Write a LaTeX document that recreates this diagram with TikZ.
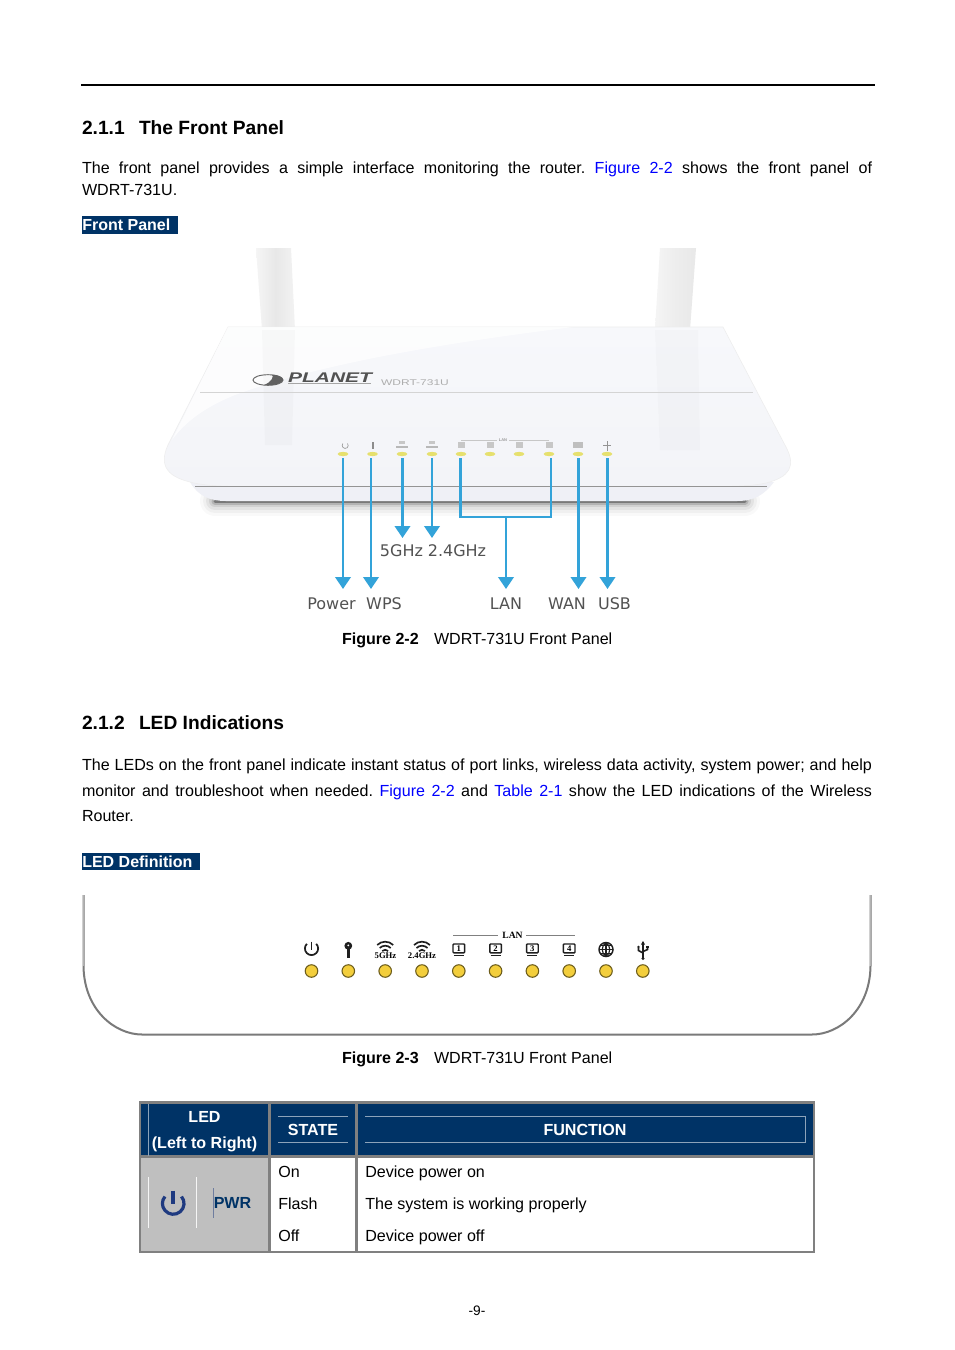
\documentclass[tikz,border=0pt]{standalone}
\usepackage{fontspec}
\usepackage{graphicx}
\setmainfont{Liberation Sans}
\newfontfamily\serifface{Liberation Serif}
\newfontfamily\labelface{DejaVu Sans}
\usetikzlibrary{arrows.meta,shapes.geometric}
\definecolor{navy}{HTML}{003366}
\definecolor{linkblue}{HTML}{0000FF}
\definecolor{arrowblue}{HTML}{33A3D9}
\definecolor{tgray}{HTML}{808080}
\definecolor{cellgray}{HTML}{BFBFBF}
\definecolor{ledy}{HTML}{F3CE3C}
\definecolor{iconblue}{HTML}{1F3A80}
\definecolor{bodytop}{HTML}{F7F8FB}
\definecolor{bodybot}{HTML}{F3F4F8}
\definecolor{lipcol}{HTML}{EFF0F6}
\definecolor{rledc}{HTML}{E6E06E}
\newcommand{\bodytext}{\fontsize{12.05}{14}\selectfont\frenchspacing}
\newcommand{\headtext}{\fontsize{14.4}{18}\selectfont\bfseries}
\newcommand{\lnk}[1]{\textcolor{linkblue}{#1}}
\newcommand{\jline}[1]{\makebox[592.5pt][s]{#1}}
\tikzset{
  x=0.75pt,y=-0.75pt,
  txt/.style={anchor=base west,inner sep=0pt,outer sep=0pt,font=\bodytext},
  head/.style={anchor=base west,inner sep=0pt,outer sep=0pt,font=\headtext},
  capt/.style={anchor=base west,inner sep=0pt,outer sep=0pt,font=\bodytext},
  bannertext/.style={anchor=base west,inner sep=0pt,text=white,font=\fontsize{12}{14}\selectfont\bfseries},
  thd/.style={inner sep=0pt,text=white,font=\bodytext\bfseries},
  cellt/.style={anchor=base west,inner sep=0pt,font=\bodytext},
  rlabel/.style={inner sep=0pt,text=black!68,font=\labelface\fontsize{12}{14}\selectfont},
  arrowline/.style={draw=arrowblue,line width=2.1pt,line join=miter},
  arrowtip/.style={-{Triangle[width=11.5pt,length=9pt]}},
  pled/.style={circle,draw=black!55!ledy,fill=ledy,line width=0.8pt,minimum size=9.4pt,inner sep=0pt},
  rled/.style={ellipse,inner sep=0pt,minimum width=8pt,minimum height=3.2pt,fill=rledc},
  icon/.style={draw=black!88,line width=1pt,fill=none},
  thin white/.style={draw=white!85!cellgray,line width=0.5pt},
  hline/.style={draw=white!55!navy,line width=0.5pt},
}
\begin{document}
\begin{tikzpicture}
\useasboundingbox (0,0) rectangle (954,1350);
\fill[white] (0,0) rectangle (954,1350);

% top rule
\draw[line width=1.5pt] (81,85) -- (875,85);

% section 2.1.1
\node[head] (h1n) at (82,134) {2.1.1};
\node[head] (h1) at (139,134) {The Front Panel};
\node[txt] (p1a) at (82,173) {\jline{The front panel provides a simple interface monitoring the router. \lnk{Figure} \lnk{2-2} shows the front panel of}};
\node[txt] (p1b) at (82,195) {WDRT-731U.};
\fill[navy] (82,216) rectangle (178,234);
\node[bannertext] (b1) at (82,230) {Front Panel};

% ---------- router -------------
% antennas
\shade[left color=black!4,right color=black!5,middle color=black!9] (256,248) -- (291,248) -- (295,330) -- (262,330) -- cycle;
\shade[left color=black!4,right color=black!9,middle color=black!7] (660,248) -- (696,248) -- (690,330) -- (655,330) -- cycle;
% soft shadow
\foreach \w/\o in {30/.025,24/.035,18/.05,12/.08,7/.14,3/.32}{
  \draw[black,line width=\w*0.75pt,opacity=\o,line cap=round] (215,501) -- (745,501);
}
% lip
\fill[lipcol] (190,482) .. controls (198,496) and (210,501) .. (226,501) -- (737,501) .. controls (754,501) and (764,495) .. (774,482) -- cycle;
% body
\shade[top color=bodytop,bottom color=bodybot,draw=black!7,line width=0.4pt] (228,327) -- (723,327)
   -- (786,447)
   .. controls (796,466) and (790,477) .. (766,483)
   .. controls (750,486.5) and (730,486.5) .. (700,486.5)
   -- (250,486.5) .. controls (225,486.5) and (205,486) .. (190,482)
   .. controls (165,476) and (158,463) .. (170,441)
   -- cycle;
% swoosh
\fill[white,opacity=.75] (228,327) -- (573,327) .. controls (470,340) and (330,360) .. (235,395) .. controls (205,407) and (185,422) .. (172,440) -- cycle;
% antenna reflections
\fill[black,opacity=.02] (262,330) -- (295,330) -- (292,445) -- (265,445) -- cycle;
\fill[black,opacity=.015] (655,330) -- (698,330) -- (700,450) -- (660,450) -- cycle;
% seam, lip line
\draw[black!17,line width=0.6pt] (200,392) -- (753,392);
\draw[black!42,line width=0.9pt] (195,486.5) -- (767,486.5);
% logo
\draw[black!60,line width=0.7pt] (268,380) ellipse (15 and 5.3);
\fill[black!62] (264,385) .. controls (272,382) and (274,376) .. (272,374.8) .. controls (280,375) and (283.5,378) .. (283,380.5) .. controls (281,384) and (272,386) .. (264,385) -- cycle;
\node[inner sep=0pt,text=black!68,font=\fontsize{10.5}{12}\selectfont\bfseries\itshape] (logo) at (330,377.5) {\scalebox{1.5}[1]{PLANET}};
\draw[black!35,line width=0.7pt] (288,383.5) -- (371,383.5);
\node[inner sep=0pt,text=black!32,font=\fontsize{6.2}{7}\selectfont] (model) at (415,382.5) {\scalebox{1.45}[1]{WDRT-731U}};

% router icons (small marks above LEDs)
\draw[black!40,line width=0.5pt] (347.5,443.5) arc[start angle=-40,end angle=220,radius=3];
\fill[black!45] (372,442) rectangle (374,449);
\foreach \xx in {402,432}{\fill[black!22] (\xx-3,441) rectangle (\xx+3,444); \fill[black!28] (\xx-6,446) rectangle (\xx+6,448);}
\foreach \xx in {461,490,519,549}{\fill[black!22] (\xx-3.5,442) rectangle (\xx+3.5,447.5);}
\fill[black!25] (573,442) rectangle (583,448);
\draw[black!42,line width=0.6pt] (607,441) -- (607,451) (603,445) -- (611,445);
\draw[black!22,line width=0.3pt] (461,440) -- (497,440) (509,440) -- (549,440);
\node[inner sep=0pt,text=black!40,font=\fontsize{3}{3}\selectfont\bfseries] (rlan) at (503,440) {LAN};

% router LEDs
\foreach \n/\xx in {1/343,2/372.5,3/402,4/432,5/461,6/490,7/519,8/549,9/578,10/607}{
  \node[rled] (r\n) at (\xx,454) {};
}

% arrows
\coordinate (s1) at (343,458); \coordinate (e1) at (343,589);
\coordinate (s2) at (371,458); \coordinate (e2) at (371,589);
\coordinate (s3) at (402.5,458); \coordinate (e3) at (402.5,538);
\coordinate (s4) at (432,458); \coordinate (e4) at (432,538);
\coordinate (s5) at (460.5,458); \coordinate (s8) at (551,458);
\coordinate (j1) at (460.5,517); \coordinate (j2) at (551,517);
\coordinate (js) at (506,517); \coordinate (e5) at (506,589);
\coordinate (s9) at (578.5,458); \coordinate (e9) at (578.5,589);
\coordinate (s10) at (607.5,458); \coordinate (e10) at (607.5,589);
\draw[arrowline,arrowtip] (s1) -- (e1);
\draw[arrowline,arrowtip] (s2) -- (e2);
\draw[arrowline,arrowtip] (s3) -- (e3);
\draw[arrowline,arrowtip] (s4) -- (e4);
\draw[arrowline] (s5) -- (j1) -- (j2) -- (s8);
\draw[arrowline,arrowtip] (js) -- (e5);
\draw[arrowline,arrowtip] (s9) -- (e9);
\draw[arrowline,arrowtip] (s10) -- (e10);

\node[rlabel] (lp) at (331.5,603.5) {Power};
\node[rlabel] (lw) at (384,603.5) {WPS};
\node[rlabel] (l5) at (401.5,550.5) {5GHz};
\node[rlabel] (l2) at (457,550.5) {2.4GHz};
\node[rlabel] (ll) at (506,603.5) {LAN};
\node[rlabel] (lwan) at (567,603.5) {WAN};
\node[rlabel] (lu) at (614.5,603.5) {USB};

\node[capt] (c1) at (342,644) {\textbf{Figure 2-2}};
\node[capt] (c1b) at (434,644) {WDRT-731U Front Panel};

% section 2.1.2
\node[head] (h2n) at (82,729) {2.1.2};
\node[head] (h2) at (139,729) {LED Indications};
\node[txt] (p2a) at (82,770) {\jline{The LEDs on the front panel indicate instant status of port links, wireless data activity, system power; and help}};
\node[txt] (p2b) at (82,796) {\jline{monitor and troubleshoot when needed. \lnk{Figure} \lnk{2-2} and \lnk{Table} \lnk{2-1} show the LED indications of the Wireless}};
\node[txt] (p2c) at (82,821) {Router.};
\fill[navy] (82,853) rectangle (200,870);
\node[bannertext] (b2) at (82,867) {LED Definition};

% LED panel outline
\draw[black!52,line width=1.5pt] (83.5,895) -- (83.5,966) .. controls (84,1010) and (115,1034.5) .. (142,1034.5) -- (812,1034.5) .. controls (839,1034.5) and (870,1010) .. (870.5,966) -- (870.5,895);
\draw[white!70!black,line width=0.4pt] (83.5,895) -- (83.5,966) (870.5,895) -- (870.5,966);

% LED panel dots
\foreach \n/\xx in {1/311.5,2/348.3,3/385.2,4/422,5/458.8,6/495.6,7/532.4,8/569.2,9/606,10/642.8}{
  \node[pled] (d\n) at (\xx,971) {};
}
% power icon
\draw[icon,line width=1.3pt] (316.2,943.8) arc[start angle=-45,end angle=225,radius=6.6];
\draw[icon,line width=1.3pt] (311.5,941.5) -- (311.5,949.5);
% WPS key
\draw[black!88,line width=2pt] (348.3,948) -- (348.3,957.5);
\fill[black!88] (348.3,945.8) circle (3.9);
\fill[white] (348.3,945.3) circle (1);
% wifi
\foreach \xx in {385.2,422}{
  \draw[icon,line width=1.25pt] ({\xx-8},945) arc[start angle=225,end angle=315,radius=11.3];
  \draw[icon,line width=1.25pt] ({\xx-5.5},948) arc[start angle=225,end angle=315,radius=7.8];
  \draw[icon,line width=1.25pt] ({\xx-3},951) arc[start angle=225,end angle=315,radius=4.2];
}
\node[inner sep=0pt,font=\serifface\fontsize{6.5}{7}\selectfont\bfseries] (t5) at (385.5,956) {5GHz};
\node[inner sep=0pt,font=\serifface\fontsize{6.5}{7}\selectfont\bfseries] (t2) at (422,956) {2.4GHz};
% LAN
\draw[black!50,line width=0.5pt] (453,935.5) -- (498,935.5) (526,935.5) -- (575,935.5);
\node[inner sep=0pt,font=\serifface\fontsize{7.2}{8}\selectfont\bfseries] (tlan) at (512.5,935.5) {LAN};
\foreach \xx/\m in {458.8/1,495.6/2,532.4/3,569.2/4}{
  \draw[icon,line width=1.05pt,rounded corners=0.6pt] ({\xx-5.8},944) rectangle ({\xx+5.8},952.8);
  \node[inner sep=0pt,font=\serifface\fontsize{6.5}{7}\selectfont\bfseries] (n\m) at (\xx,948.4) {\m};
  \draw[black!88,line width=1.4pt] ({\xx-5},955.5) -- ({\xx+5},955.5);
}
% globe
\draw[icon,line width=1.1pt] (606,949.5) circle (7);
\draw[icon,line width=0.85pt] (606,942.5) .. controls (601,946) and (601,953) .. (606,956.5);
\draw[icon,line width=0.85pt] (606,942.5) .. controls (611,946) and (611,953) .. (606,956.5);
\draw[icon,line width=0.85pt] (606,942.5) -- (606,956.5) (599,949.5) -- (613,949.5) (600.5,945.5) -- (611.5,945.5) (600.5,953.5) -- (611.5,953.5);
% USB
\draw[icon,line width=1.2pt] (643,942) -- (643,958) (638.5,948) -- (638.5,950.5) -- (643,953) (647.5,947) -- (647.5,949.5) -- (643,951.5);
\fill[black!88] (643,941) -- (641,944.5) -- (645,944.5) -- cycle;
\fill[black!88] (643,958.5) circle (1.7);
\fill[black!88] (638.5,947) circle (1.4);
\fill[black!88] (646.2,945.5) rectangle (648.8,948);

\node[capt] (c2) at (342,1063) {\textbf{Figure 2-3}};
\node[capt] (c2b) at (434,1063) {WDRT-731U Front Panel};

% table
\fill[navy] (141,1103.5) rectangle (813,1155.5);
\fill[cellgray] (141,1157) rectangle (268.5,1250.5);
\draw[tgray,line width=2.2pt] (140,1102.5) rectangle (814,1252);
\draw[tgray,line width=2.2pt] (140,1156.5) -- (814,1156.5);
\draw[tgray,line width=2.4pt] (269.5,1102.5) -- (269.5,1252);
\draw[tgray,line width=2.0pt] (356.5,1102.5) -- (356.5,1252);
% faint rules
\draw[hline] (148.5,1103.5) -- (148.5,1155.5);
\draw[hline] (278,1116) -- (348,1116) (278,1142.5) -- (348,1142.5);
\draw[hline] (365,1116) -- (805.5,1116) -- (805.5,1142.5) -- (365,1142.5);
\draw[thin white] (148.5,1177) -- (148.5,1228) (196.5,1177) -- (196.5,1228);
\draw[draw=iconblue!50!cellgray,line width=0.4pt] (213.5,1188) -- (213.5,1218);

\node[thd] (tl1) at (204.5,1116.5) {LED};
\node[thd] (tl2) at (204.5,1144) {(Left to Right)};
\node[thd] (ts) at (313,1129.5) {STATE};
\node[thd] (tf) at (585,1129.5) {FUNCTION};
% power symbol
\draw[iconblue,line width=2.4pt] (181.5,1196.5) arc[start angle=-40,end angle=220,radius=10.8];
\draw[iconblue,line width=2.4pt] (173,1190.5) -- (173,1204);
\node[inner sep=0pt,text=navy,font=\bodytext\bfseries] (pwr) at (232.5,1202.5) {PWR};

\node[cellt] (s1t) at (278,1177) {On};
\node[cellt] (s2t) at (278,1209) {Flash};
\node[cellt] (s3t) at (278,1241) {Off};
\node[cellt] (f1t) at (365,1177) {Device power on};
\node[cellt] (f2t) at (365,1209) {The system is working properly};
\node[cellt] (f3t) at (365,1241) {Device power off};

\node[inner sep=0pt,font=\fontsize{10.3}{12}\selectfont] (pg) at (477,1310.5) {-9-};
\end{tikzpicture}
\end{document}
